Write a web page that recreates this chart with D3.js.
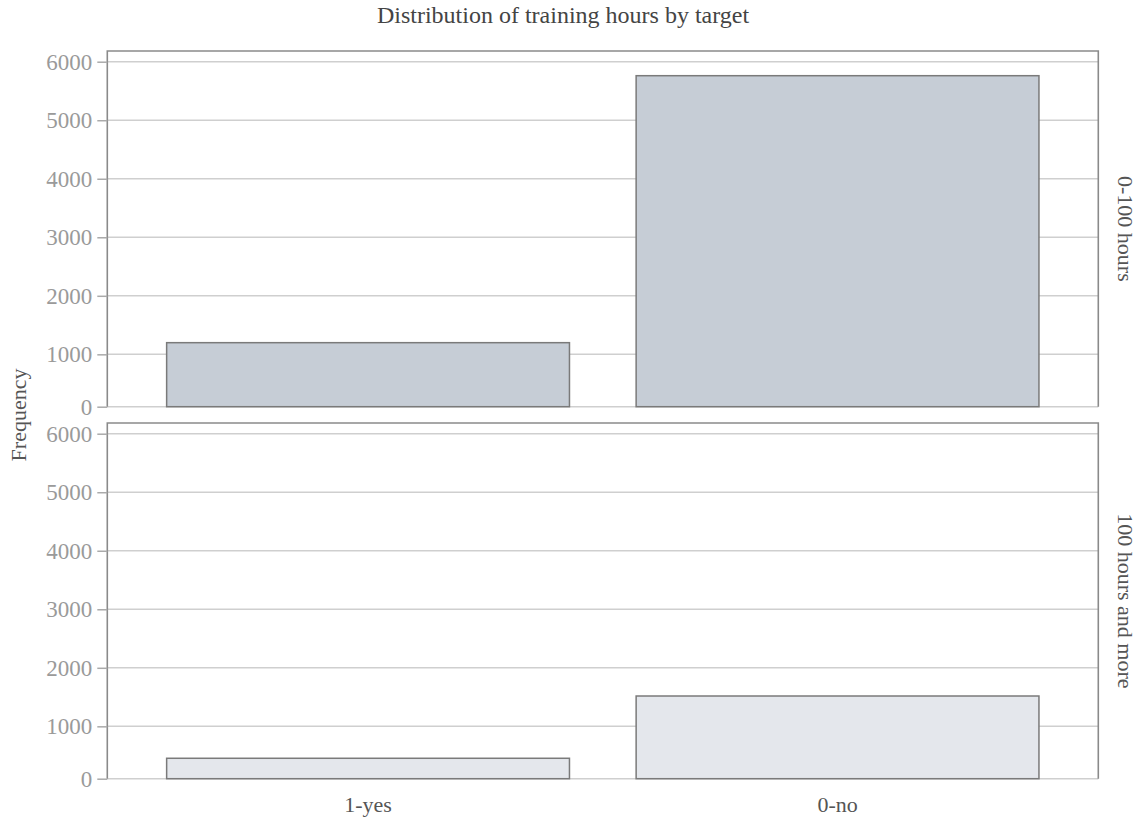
<!DOCTYPE html>
<html>
<head>
<meta charset="utf-8">
<script src="https://cdn.jsdelivr.net/npm/d3@7"></script>
<style>
  html, body { margin: 0; padding: 0; background: #fff; }
  svg { display: block; }
  text { font-family: "Liberation Serif", "DejaVu Serif", serif; }
</style>
</head>
<body>
<svg id="chart" width="1138" height="821"></svg>
<script>
// ---- data ----
const title = "Distribution of training hours by target";
const categories = ["1-yes", "0-no"];
const facets = ["0-100 hours", "100 hours and more"];
const valuesShort = [1199, 5761];   // 0-100 hours
const valuesLong = [454, 1518];     // 100 hours and more
const seriesValues = [valuesShort, valuesLong];
const yTicks = [0, 1000, 2000, 3000, 4000, 5000, 6000];
const yDomain = [105, 6183];
const yLabel = "Frequency";

// ---- layout ----
const left = 107.3, right = 1098.3;
const panelTops = [51, 423];
const panelH = 355.7;
const fills = ["#c6cdd6", "#e4e7ec"];

const svg = d3.select("#chart");

const x = d3.scaleBand()
  .domain(categories)
  .range([left, right])
  .paddingInner(0.142)
  .paddingOuter(0.1264);

const y = d3.scaleLinear().domain(yDomain).range([panelH, 0]).clamp(true);

svg.append("text")
  .attr("x", 563).attr("y", 23)
  .attr("text-anchor", "middle")
  .attr("font-size", 24)
  .attr("fill", "#444")
  .text(title);

facets.forEach((f, i) => {
  const g = svg.append("g").attr("transform", `translate(0,${panelTops[i]})`);

  g.selectAll("line.grid").data(yTicks).enter().append("line")
    .attr("x1", left).attr("x2", right)
    .attr("y1", d => y(d)).attr("y2", d => y(d))
    .attr("stroke", "#cfcfcf").attr("stroke-width", 1.5);

  g.selectAll("rect.bar").data(categories).enter().append("rect")
    .attr("x", d => x(d))
    .attr("width", x.bandwidth())
    .attr("y", (d, j) => y(seriesValues[i][j]))
    .attr("height", (d, j) => y(0) - y(seriesValues[i][j]))
    .attr("fill", fills[i])
    .attr("stroke", "#7a7a7a").attr("stroke-width", 1.5);

  g.append("path")
    .attr("d", `M${left},${panelH}V0H${right}V${panelH}`)
    .attr("fill", "none").attr("stroke", "#8a8a8a").attr("stroke-width", 1.6);

  const ax = g.append("g").attr("transform", `translate(${left},0)`)
    .call(d3.axisLeft(y).tickValues(yTicks).tickSize(10).tickPadding(5).tickFormat(d3.format("d")));
  ax.select(".domain").remove();
  ax.selectAll(".tick line").attr("stroke", "#aaa").attr("stroke-width", 1.5);
  ax.selectAll(".tick text")
    .attr("font-family", "Liberation Serif, serif")
    .attr("font-size", 23).attr("fill", "#9a9a9a");

  const cy = panelTops[i] + panelH / 2;
  svg.append("text")
    .attr("transform", `translate(1118,${cy}) rotate(90)`)
    .attr("text-anchor", "middle")
    .attr("font-size", 22).attr("fill", "#555")
    .text(f);
});

svg.selectAll("text.xlab").data(categories).enter().append("text")
  .attr("x", d => x(d) + x.bandwidth() / 2)
  .attr("y", 812)
  .attr("text-anchor", "middle")
  .attr("font-size", 22).attr("fill", "#555")
  .text(d => d);

svg.append("text")
  .attr("transform", `translate(26,415) rotate(-90)`)
  .attr("text-anchor", "middle")
  .attr("font-size", 22).attr("fill", "#555")
  .text(yLabel);
</script>
</body>
</html>
